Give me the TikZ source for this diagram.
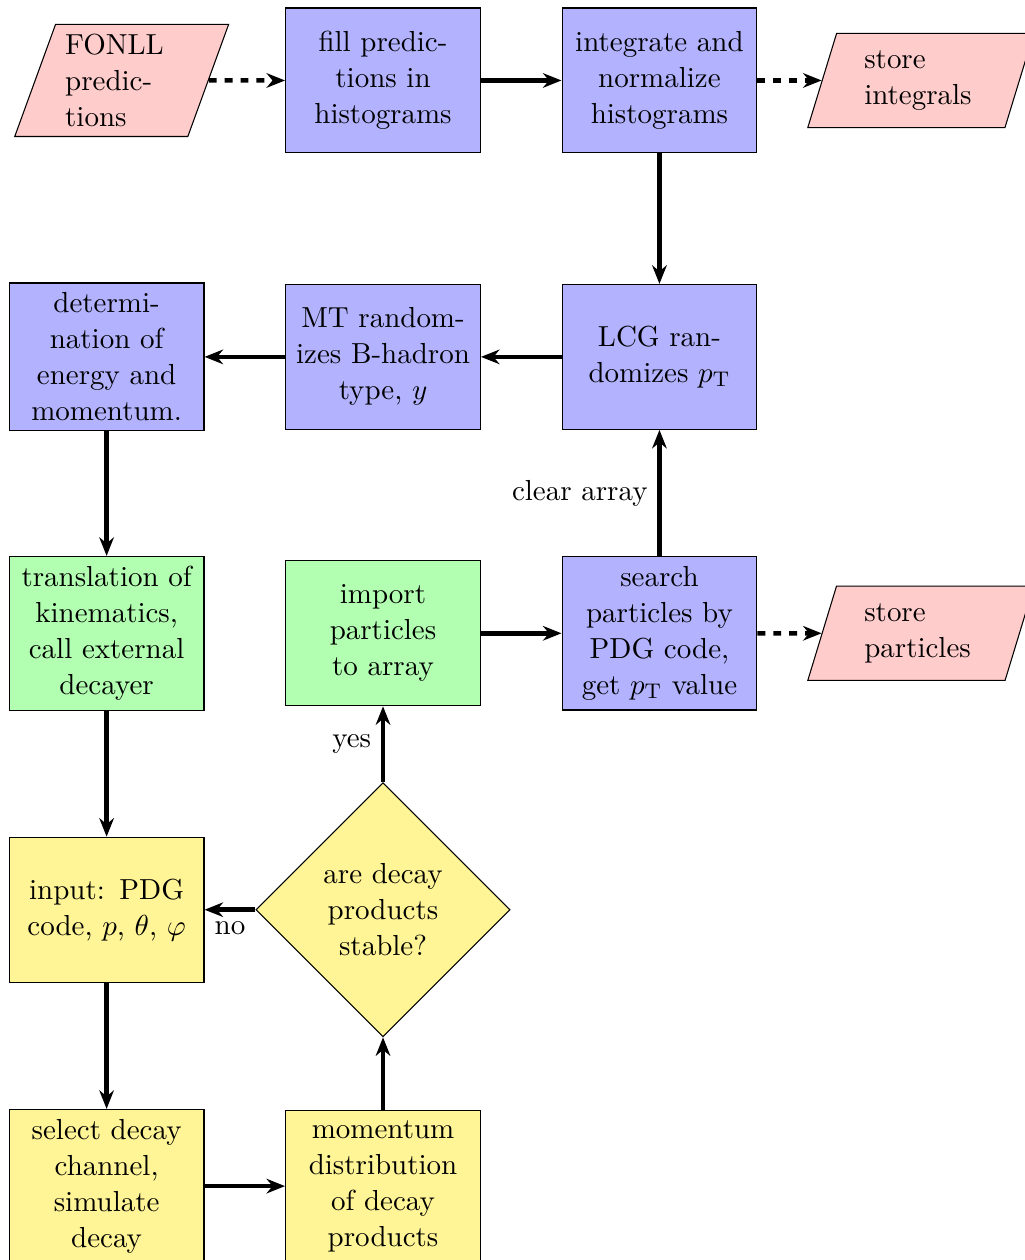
\documentclass[11pt,tikz,border=0pt]{standalone}
\usepackage{xcolor}
\usepackage{tikz}
\usetikzlibrary{shapes.geometric, arrows.meta, positioning}

\definecolor{decayyellow}{RGB}{255,245,150}

\begin{document}
\begin{tikzpicture}[node distance=3.67cm, on grid, auto,
        block/.style={rectangle, draw, text width=66.3pt, align=center, minimum height=5em},
        bblock/.style={block, fill=blue!30},
        gblock/.style={block, fill=green!30},
        yblock/.style={block, fill=decayyellow},
        io/.style={trapezium, trapezium left angle=70, trapezium right angle=110,
            trapezium stretches body, draw, fill=red!20, text width=1.5cm, align=left,
            minimum height=1.25cm},
        decision/.style={diamond, draw, fill=decayyellow, text width=1.7cm, align=center,
            inner sep=0pt, minimum width=96pt, minimum height=96pt},
        flow/.style={line width=1.7pt, -{Stealth[length=7pt, width=5.5pt]}}]
        \useasboundingbox (-144.7pt,-445.6pt) rectangle (242.5pt,30.4pt);

        \node[bblock] (fill) {fill predictions in histograms};
        \node[io] (fonll) [left=3.47cm of fill] {FONLL predictions};
        \node[bblock] (integrate) [right=of fill] {integrate and normalize histograms};
        \node[io, minimum width=3cm] (storeint) [right=3.47cm of integrate] {store integrals};
        \node[bblock] (lcg) [below=of integrate] {LCG randomizes $p_\mathrm{T}$};
        \node[bblock] (mt) [left=of lcg] {MT randomizes B-hadron type, $y$};
        \node[bblock] (determ) [left=of mt] {determi-\\nation of energy and momentum.};
        \node[gblock] (transl) [below=of determ] {translation of kinematics, call external decayer};
        \node[yblock] (input) [below=of transl] {input: PDG code, $p$, $\theta$, $\varphi$};
        \node[yblock] (select) [below=of input] {select decay channel, simulate decay};
        \node[yblock] (momentum) [right=of select] {momentum distribution of decay products};
        \node[decision] (stable) [above=of momentum] {are decay products stable?};
        \node[gblock] (import) [above=of stable] {import particles to array};
        \node[bblock] (search) [right=of import] {search particles by PDG code, get $p_\mathrm{T}$ value};
        \node[io, minimum width=3cm] (storepart) [right=3.47cm of search] {store particles};

        \path[flow]
        (fonll) edge [dashed] (fill)
        (fill) edge (integrate)
        (integrate) edge [dashed] (storeint)
        edge (lcg)
        (lcg) edge (mt)
        (mt) edge (determ)
        (determ) edge (transl)
        (transl) edge (input)
        (input) edge (select)
        (select) edge (momentum)
        (momentum) edge (stable)
        (stable) edge node {no} (input)
        edge node {yes} (import)
        (import) edge (search)
        (search) edge [dashed] (storepart)
        edge node {clear array} (lcg);
\end{tikzpicture}
\end{document}
